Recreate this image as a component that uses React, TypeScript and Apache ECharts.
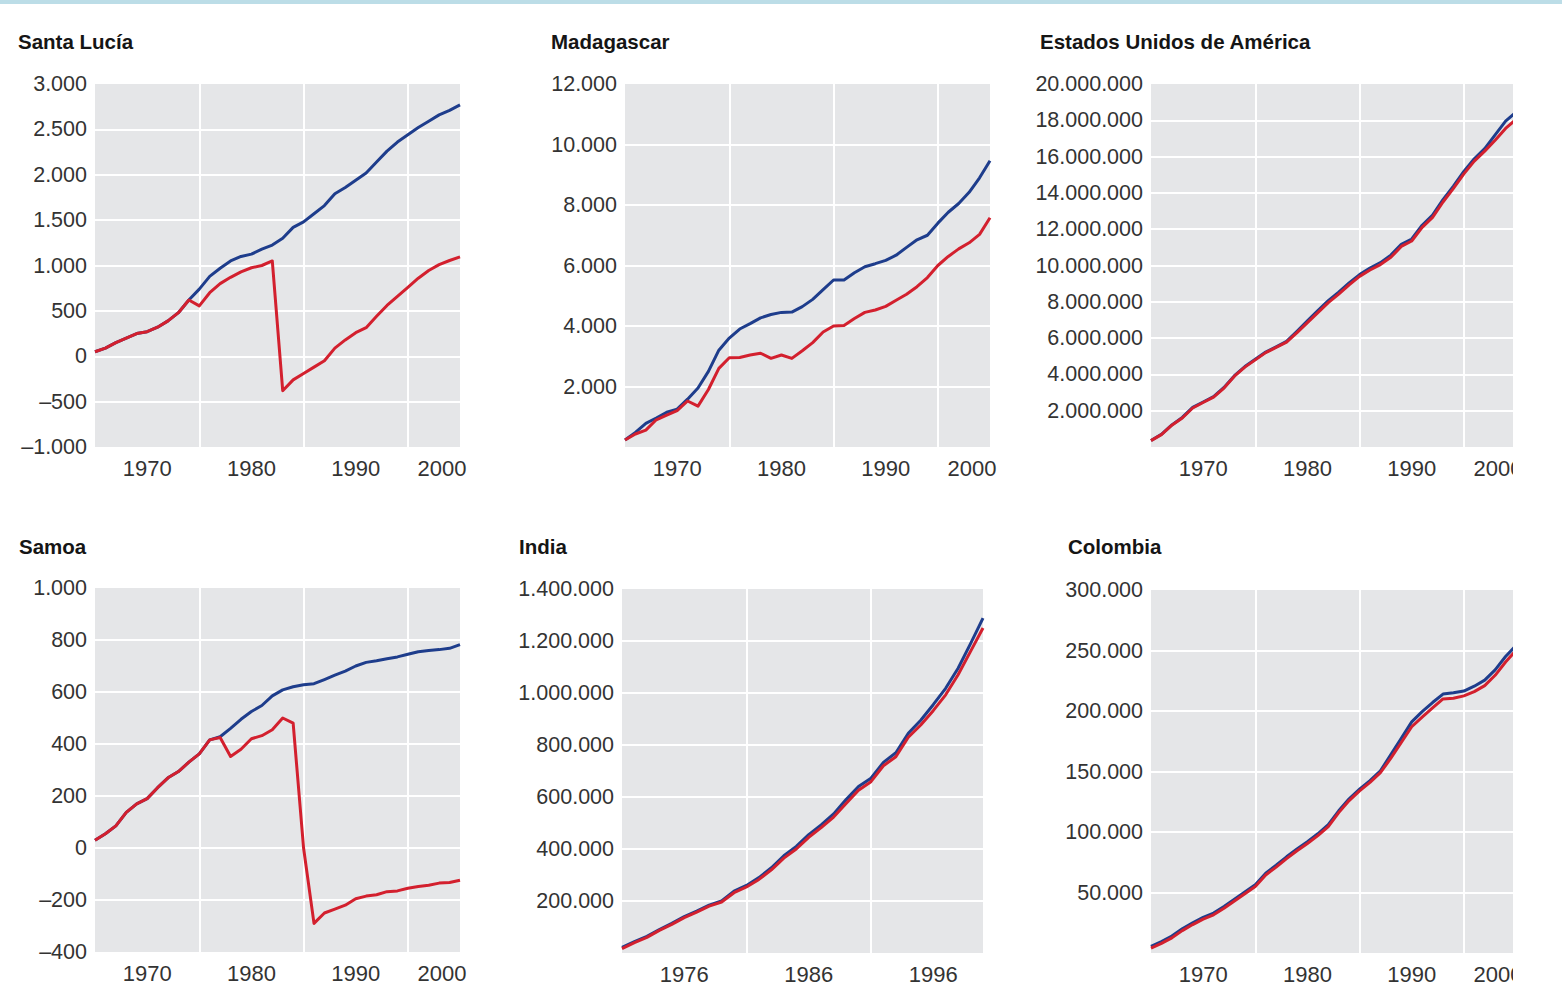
import React, { useEffect, useRef } from "react";
import * as echarts from "echarts";

// ---------- data ----------
const YEARS = [
  1965, 1966, 1967, 1968, 1969, 1970, 1971, 1972, 1973, 1974, 1975, 1976,
  1977, 1978, 1979, 1980, 1981, 1982, 1983, 1984, 1985, 1986, 1987, 1988,
  1989, 1990, 1991, 1992, 1993, 1994, 1995, 1996, 1997, 1998, 1999, 2000,
];
const YEARS_INDIA = [
  1971, 1972, 1973, 1974, 1975, 1976, 1977, 1978, 1979, 1980, 1981, 1982,
  1983, 1984, 1985, 1986, 1987, 1988, 1989, 1990, 1991, 1992, 1993, 1994,
  1995, 1996, 1997, 1998, 1999, 2000,
];

const SANTA_LUCIA_BLUE = [
  50, 90, 150, 200, 250, 270, 320, 390, 480, 620, 740, 880, 970, 1050, 1100,
  1125, 1180, 1225, 1300, 1420, 1480, 1570, 1660, 1790, 1860, 1940, 2020, 2140,
  2260, 2360, 2440, 2520, 2590, 2660, 2710, 2770,
];
const SANTA_LUCIA_RED = [
  50, 90, 150, 200, 250, 270, 320, 390, 480, 620, 555, 700, 800, 870, 930, 975,
  1000, 1050, -380, -260, -190, -120, -50, 90, 180, 260, 315, 440, 560, 660,
  760, 860, 945, 1010, 1055, 1095,
];

const MADAGASCAR_BLUE = [
  230, 480, 780, 960, 1150, 1250, 1580, 1950, 2500, 3200, 3600, 3900, 4080,
  4270, 4380, 4450, 4460, 4640, 4880, 5200, 5520, 5520, 5760, 5960, 6060, 6170,
  6340, 6600, 6850, 7000, 7400, 7760, 8050, 8420, 8900, 9460,
];
const MADAGASCAR_RED = [
  230, 430, 560, 900, 1050, 1200, 1520, 1350, 1900, 2600, 2950, 2960, 3040,
  3100, 2930, 3040, 2930, 3180, 3450, 3800, 4000, 4020, 4250, 4450, 4530, 4650,
  4850, 5050, 5300, 5600, 6000, 6300, 6550, 6750, 7030, 7580,
];

const USA_BLUE = [
  360000, 700000, 1220000, 1630000, 2180000, 2480000, 2780000, 3280000,
  3930000, 4430000, 4830000, 5230000, 5520000, 5820000, 6380000, 6950000,
  7520000, 8060000, 8530000, 9040000, 9500000, 9860000, 10160000, 10570000,
  11170000, 11460000, 12220000, 12780000, 13630000, 14370000, 15180000,
  15880000, 16440000, 17200000, 17950000, 18450000,
];
const USA_RED = [
  350000, 680000, 1200000, 1600000, 2150000, 2450000, 2750000, 3250000,
  3900000, 4400000, 4800000, 5200000, 5490000, 5780000, 6300000, 6850000,
  7400000, 7950000, 8420000, 8930000, 9400000, 9750000, 10050000, 10450000,
  11050000, 11350000, 12100000, 12650000, 13500000, 14250000, 15050000,
  15750000, 16300000, 16900000, 17550000, 18050000,
];

const SAMOA_BLUE = [
  30, 55, 85, 137, 170, 190, 232, 270, 294, 330, 362, 416, 428, 460, 495, 525,
  548, 585, 608, 620, 628, 632, 648, 665, 680, 700, 714, 720, 728, 735, 745,
  755, 760, 763, 768, 782,
];
const SAMOA_RED = [
  30, 55, 85, 137, 170, 190, 232, 270, 294, 330, 362, 416, 425, 352, 380, 420,
  432, 455, 500, 480, 0, -290, -250, -235, -220, -195, -185, -180, -168, -165,
  -155, -148, -143, -135, -133, -124,
];

const INDIA_BLUE = [
  22000, 44000, 64000, 90000, 114000, 140000, 161000, 184000, 200000, 238000,
  260000, 290000, 328000, 374000, 410000, 455000, 493000, 535000, 590000,
  640000, 672000, 733000, 770000, 845000, 895000, 955000, 1018000, 1095000,
  1190000, 1288000,
];
const INDIA_RED = [
  17000, 40000, 60000, 87000, 110000, 136000, 157000, 180000, 196000, 232000,
  254000, 283000, 320000, 365000, 400000, 445000, 482000, 523000, 575000,
  626000, 659000, 720000, 755000, 830000, 877000, 932000, 993000, 1070000,
  1160000, 1250000,
];

const COLOMBIA_BLUE = [
  5500, 9500, 14000, 20000, 25000, 29500, 33000, 38500, 44500, 50500, 56500,
  66000, 72500, 79500, 86000, 92000, 98500, 106000, 117500, 127500, 135500,
  142500, 150500, 164000, 177500, 191000, 199500, 207000, 214000, 215000,
  216500, 220500, 225500, 234000, 245000, 254000,
];
const COLOMBIA_RED = [
  4000, 8000, 12500, 18500, 23500, 28000, 31600, 37000, 43000, 49000, 55000,
  64500, 71000, 78000, 84500, 90500, 97000, 104500, 116000, 126000, 134000,
  141000, 149000, 161000, 174000, 187000, 195000, 202500, 210000, 210500,
  212500, 216000, 221000, 229500, 240500, 250000,
];

// tick labels
const SANTA_LUCIA_Y_LABELS = [-1000, -500, 0, 500, 1000, 1500, 2000, 2500, 3000];
const MADAGASCAR_Y_LABELS = [2000, 4000, 6000, 8000, 10000, 12000];
const USA_Y_LABELS = [
  2000000, 4000000, 6000000, 8000000, 10000000, 12000000, 14000000, 16000000,
  18000000, 20000000,
];
const SAMOA_Y_LABELS = [-400, -200, 0, 200, 400, 600, 800, 1000];
const INDIA_Y_LABELS = [200000, 400000, 600000, 800000, 1000000, 1200000, 1400000];
const COLOMBIA_Y_LABELS = [50000, 100000, 150000, 200000, 250000, 300000];

const X_LABELS_MAIN = [1970, 1980, 1990, 2000];
const X_GRID_MAIN = [1975, 1985, 1995];
const X_LABELS_INDIA = [1976, 1986, 1996];
const X_GRID_INDIA = [1981, 1991];

const TITLES = [
  "Santa Lucía",
  "Madagascar",
  "Estados Unidos de América",
  "Samoa",
  "India",
  "Colombia",
];

// ---------- style / layout ----------
const BLUE = "#1e3d8c";
const RED = "#d3202e";
const PLOT_BG = "#e5e6e8";
const FONT = "'Liberation Sans', Arial, sans-serif";

function fmt(v: number): string {
  const s = Math.abs(v)
    .toString()
    .replace(/\B(?=(\d{3})+(?!\d))/g, ".");
  return v < 0 ? "\u2013" + s : s;
}

type Panel = {
  title: string;
  titlePos: [number, number];
  grid: { left: number; top: number; width: number; height: number };
  years: number[];
  blue: number[];
  red: number[];
  xMin: number;
  xMax: number;
  xLabels: number[];
  xGrid: number[];
  shiftLast: boolean;
  yMin: number;
  yMax: number;
  yInterval: number;
  yLabels: number[];
};

const PANELS: Panel[] = [
  {
    title: TITLES[0],
    titlePos: [18, 31],
    grid: { left: 95, top: 84, width: 365, height: 363 },
    years: YEARS,
    blue: SANTA_LUCIA_BLUE,
    red: SANTA_LUCIA_RED,
    xMin: 1965,
    xMax: 2000,
    xLabels: X_LABELS_MAIN,
    xGrid: X_GRID_MAIN,
    shiftLast: true,
    yMin: -1000,
    yMax: 3000,
    yInterval: 500,
    yLabels: SANTA_LUCIA_Y_LABELS,
  },
  {
    title: TITLES[1],
    titlePos: [551, 31],
    grid: { left: 625, top: 84, width: 365, height: 363 },
    years: YEARS,
    blue: MADAGASCAR_BLUE,
    red: MADAGASCAR_RED,
    xMin: 1965,
    xMax: 2000,
    xLabels: X_LABELS_MAIN,
    xGrid: X_GRID_MAIN,
    shiftLast: true,
    yMin: 0,
    yMax: 12000,
    yInterval: 2000,
    yLabels: MADAGASCAR_Y_LABELS,
  },
  {
    title: TITLES[2],
    titlePos: [1040, 31],
    grid: { left: 1151, top: 84, width: 365, height: 363 },
    years: YEARS,
    blue: USA_BLUE,
    red: USA_RED,
    xMin: 1965,
    xMax: 2000,
    xLabels: X_LABELS_MAIN,
    xGrid: X_GRID_MAIN,
    shiftLast: true,
    yMin: 0,
    yMax: 20000000,
    yInterval: 2000000,
    yLabels: USA_Y_LABELS,
  },
  {
    title: TITLES[3],
    titlePos: [19, 536],
    grid: { left: 95, top: 588, width: 365, height: 364 },
    years: YEARS,
    blue: SAMOA_BLUE,
    red: SAMOA_RED,
    xMin: 1965,
    xMax: 2000,
    xLabels: X_LABELS_MAIN,
    xGrid: X_GRID_MAIN,
    shiftLast: true,
    yMin: -400,
    yMax: 1000,
    yInterval: 200,
    yLabels: SAMOA_Y_LABELS,
  },
  {
    title: TITLES[4],
    titlePos: [519, 536],
    grid: { left: 622, top: 589, width: 361, height: 364 },
    years: YEARS_INDIA,
    blue: INDIA_BLUE,
    red: INDIA_RED,
    xMin: 1971,
    xMax: 2000,
    xLabels: X_LABELS_INDIA,
    xGrid: X_GRID_INDIA,
    shiftLast: false,
    yMin: 0,
    yMax: 1400000,
    yInterval: 200000,
    yLabels: INDIA_Y_LABELS,
  },
  {
    title: TITLES[5],
    titlePos: [1068, 536],
    grid: { left: 1151, top: 590, width: 365, height: 363 },
    years: YEARS,
    blue: COLOMBIA_BLUE,
    red: COLOMBIA_RED,
    xMin: 1965,
    xMax: 2000,
    xLabels: X_LABELS_MAIN,
    xGrid: X_GRID_MAIN,
    shiftLast: true,
    yMin: 0,
    yMax: 300000,
    yInterval: 50000,
    yLabels: COLOMBIA_Y_LABELS,
  },
];

function buildOption() {
  const title: any[] = [];
  const grid: any[] = [];
  const xAxis: any[] = [];
  const yAxis: any[] = [];
  const series: any[] = [];

  PANELS.forEach((p, i) => {
    title.push({
      text: p.title,
      left: p.titlePos[0],
      top: p.titlePos[1],
      padding: 0,
      textStyle: {
        fontFamily: FONT,
        fontSize: 20.5,
        fontWeight: "bold",
        color: "#151515",
      },
    });
    grid.push({
      ...p.grid,
      show: true,
      backgroundColor: PLOT_BG,
      borderWidth: 0,
      containLabel: false,
      outerBoundsMode: "none",
    });
    const lastLabel = p.xLabels[p.xLabels.length - 1];
    xAxis.push({
      type: "value",
      gridIndex: i,
      min: p.xMin,
      max: p.xMax,
      axisLine: { show: false },
      axisTick: { show: false, customValues: p.xGrid },
      splitLine: {
        show: true,
        lineStyle: { color: "#ffffff", width: 2 },
      },
      axisLabel: {
        customValues: p.xLabels,
        margin: 10,
        fontFamily: FONT,
        fontSize: 22,
        color: "#333333",
        formatter: (v: number) =>
          p.shiftLast && v === lastLabel ? "{r|" + v + "}" : String(v),
        rich: {
          r: {
            fontFamily: FONT,
            fontSize: 22,
            color: "#333333",
            padding: [0, 36, 0, 0],
          },
        },
      },
    });
    yAxis.push({
      type: "value",
      gridIndex: i,
      min: p.yMin,
      max: p.yMax,
      interval: p.yInterval,
      axisLine: { show: false },
      axisTick: { show: false },
      splitLine: {
        show: true,
        showMinLine: false,
        showMaxLine: false,
        lineStyle: { color: "#ffffff", width: 2 },
      },
      axisLabel: {
        margin: 8,
        fontFamily: FONT,
        fontSize: 21.5,
        color: "#333333",
        showMinLabel: true,
        showMaxLabel: true,
        formatter: (v: number) => (p.yLabels.indexOf(v) >= 0 ? fmt(v) : ""),
      },
    });
    series.push({
      type: "line",
      name: p.title + " azul",
      xAxisIndex: i,
      yAxisIndex: i,
      data: p.years.map((y, k) => [y, p.blue[k]]),
      showSymbol: false,
      symbol: "none",
      lineStyle: { color: BLUE, width: 3, join: "round" },
      itemStyle: { color: BLUE },
      z: 2,
    });
    series.push({
      type: "line",
      name: p.title + " rojo",
      xAxisIndex: i,
      yAxisIndex: i,
      data: p.years.map((y, k) => [y, p.red[k]]),
      showSymbol: false,
      symbol: "none",
      lineStyle: { color: RED, width: 3, join: "round" },
      itemStyle: { color: RED },
      z: 3,
    });
  });

  return {
    animation: false,
    backgroundColor: "transparent",
    title,
    grid,
    xAxis,
    yAxis,
    series,
  };
}

export default function App() {
  const ref = useRef<HTMLDivElement>(null);
  useEffect(() => {
    if (!ref.current) return;
    const chart = echarts.init(ref.current, undefined, { renderer: "svg" });
    chart.setOption(buildOption() as any);
    return () => chart.dispose();
  }, []);
  return (
    <div
      style={{
        position: "fixed",
        left: 0,
        top: 0,
        width: 1562,
        height: 994,
        background: "#ffffff",
        overflow: "hidden",
      }}
    >
      <div
        style={{
          position: "absolute",
          left: 0,
          top: 0,
          width: 1513,
          height: 994,
          overflow: "hidden",
        }}
      >
        <div ref={ref} style={{ width: 1513, height: 994 }} />
      </div>
      <div
        style={{
          position: "absolute",
          left: 0,
          top: 0,
          width: 1562,
          height: 4,
          background: "#bcdde7",
        }}
      />
    </div>
  );
}
